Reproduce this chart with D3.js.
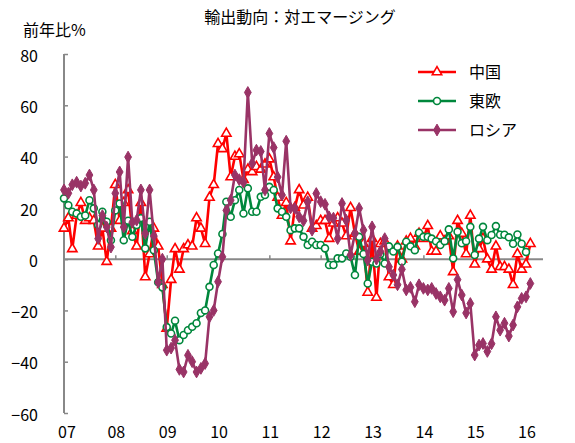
<!DOCTYPE html>
<html>
<head>
<meta charset="utf-8">
<script src="https://cdn.jsdelivr.net/npm/d3@7"></script>
<style>
  body { margin: 0; background: #fff; }
  svg text { font-family: "Noto Sans CJK JP", "Noto Sans", sans-serif; fill: #000; }
</style>
</head>
<body>
<div class="chart"></div>
<script>
// monthly data, Jan 2007 onward (前年比 %)
var startYear = 2007;
var yearLabels = ["07","08","09","10","11","12","13","14","15","16"];
var yTicks = [-60,-40,-20,0,20,40,60,80];
var seriesNames = ["中国","東欧","ロシア"];

var china = [12,16,4,17,22,15,16,15,5,12,-1,12,
  29,15,22,27,11,5,22,-7,2,12,5,-10,
  -27,-8,4,-4,4,5.5,5,16,12,6,24,29,
  45,43,49,32,40,41,31,35,34,36,35,37,
  39,32,24,17,22,7,20,27,21,24,12,13,
  15,15,8,14,16,14,9,20,10,3,6,-13,
  8,-15,6,7,-7,-10,5,0,7,8,5,10,
  8,13,3,3,9,7,9,-5,15,10,2,17,
  -2,4,8,0,-4,5,-3,-3,-4,-10,2,-4,
  -2,6];

var eastEurope = [23.7,21,18.5,17.8,16.5,17,23,19.8,13.3,18.5,14.6,7.4,
  19,21.7,7.4,15,8.7,13.3,16,4.2,14.6,3.5,-9,-11,
  -26.5,-29,-24,-31.6,-29.6,-27.7,-26.4,-25,-21,-20,-10.8,-2.3,
  2.2,9.8,22.4,16.5,23,27,17.8,27.6,18.5,18.5,24.3,25,
  28.2,27,19.8,18.5,16.5,11.3,12,12,8.7,5.5,6.8,5.5,
  5.5,4.2,-2.3,-2.3,0.3,0.3,2.2,0.9,-6.2,8.7,2,-9.5,
  -1,-1.7,2,-1.7,5,3,4.8,-1,6.8,5,3.5,10.3,
  8.7,8.7,8,7,5.5,7,11.6,0.3,10.7,6.2,7,12.6,
  1.6,8,12.6,7.4,9.4,12.9,9.5,9.5,8.5,6,9.6,6,
  2.8];

var russia = [27,25.7,29,30,28.5,29.6,32.8,27,8,17,12.5,4.7,
  25.7,34,12.5,39.8,14.4,15.2,27,10,27,9,-9,0,
  -35.5,-34.7,-31.6,-43,-44,-37.5,-40,-44,-42.6,-40.7,-22.5,-20,
  -8.8,0.9,19,23,32.8,31,30,65,37.4,42.5,42,27,
  49,43.5,32,25,46,20,19.8,16.5,15,22.4,11.3,25.6,
  22.4,21.4,16.5,16,8,21.7,15.2,1.6,10,19.8,11.3,-0.4,
  12.6,0,3,8,-3,-6.2,-10,-4,-12,-11,-16.6,-10,
  -11.4,-12,-11.4,-13.4,-14.7,-16,-11.4,-20.5,-8,-14,-21,-17.3,
  -37.4,-33.5,-32.9,-36,-33,-22.5,-27.7,-25,-30,-25.7,-18.6,-15.3,
  -14.7,-9.5];

var colors = ["#ff0000", "#00873c", "#993366"];

var width = 575, height = 443;
var svg = d3.select(".chart").append("svg")
  .attr("width", width)
  .attr("height", height);

// scales
var monthDate = function(i) { return new Date(startYear, i, 1); };
var xScale = d3.scaleTime()
  .domain([new Date(startYear, 0, 1), new Date(2016, 4, 1)])
  .range([64, 543]);
var yScale = d3.scaleLinear()
  .domain([-60, 80])
  .range([413, 54]);

// title
svg.append("text")
  .text("輸出動向：対エマージング")
  .attr("x", 300)
  .attr("y", 23)
  .attr("text-anchor", "middle")
  .attr("font-size", "16px");

svg.append("text")
  .text("前年比%")
  .attr("x", 23)
  .attr("y", 36)
  .attr("font-size", "16px");

// y axis
var yAxis = d3.axisLeft(yScale)
  .tickValues(yTicks)
  .tickSize(-4)
  .tickPadding(26)
  .tickFormat(d3.format("d"));
var yAxisG = svg.append("g")
  .attr("class", "y-axis")
  .attr("transform", "translate(64,0)")
  .call(yAxis);
yAxisG.select(".domain").remove();
yAxisG.append("line")
  .attr("x1", 0).attr("x2", 0)
  .attr("y1", yScale(80)).attr("y2", yScale(-60))
  .attr("stroke", "#888").attr("stroke-width", 2);
yAxisG.selectAll(".tick line").attr("stroke", "#888").attr("stroke-width", 1.5);
yAxisG.selectAll(".tick text")
  .attr("font-size", "16px")
  .attr("font-family", "'Noto Sans CJK JP', sans-serif")
  .attr("dy", "0.45em")
  .text(function(d) { return d < 0 ? "\u2212" + Math.abs(d) : d; });

// x axis on zero line
var yearTicks = yearLabels.map(function(d, i) { return new Date(startYear + i, 0, 1); });
var xAxis = d3.axisTop(xScale)
  .tickValues(yearTicks.slice(1))
  .tickSize(4)
  .tickFormat("");
var xAxisG = svg.append("g")
  .attr("class", "x-axis")
  .attr("transform", "translate(0," + yScale(0) + ")")
  .call(xAxis);
xAxisG.select(".domain").remove();
xAxisG.append("line")
  .attr("x1", xScale.range()[0]).attr("x2", xScale.range()[1])
  .attr("stroke", "#888").attr("stroke-width", 2);
xAxisG.selectAll(".tick line").attr("stroke", "#888").attr("stroke-width", 1.5);

// year labels at bottom
svg.append("g").selectAll("text")
  .data(yearLabels)
  .enter().append("text")
    .text(function(d) { return d; })
    .attr("x", function(d, i) { return xScale(yearTicks[i]) + (i === 0 ? 3 : 1); })
    .attr("y", 438)
    .attr("text-anchor", "middle")
    .attr("font-size", "16px");

// series
var series = [china, eastEurope, russia];
var symbols = [d3.symbolTriangle, d3.symbolCircle, d3.symbolDiamond];
var symSizes = [38, 38, 40];

var line = d3.line()
  .x(function(d, i) { return xScale(monthDate(i)); })
  .y(function(d) { return yScale(d); });

function drawMarker(g, k) {
  g.append("path")
    .attr("d", d3.symbol().type(symbols[k]).size(symSizes[k]))
    .attr("fill", k === 2 ? colors[k] : "#fff")
    .attr("stroke", colors[k])
    .attr("stroke-width", k === 2 ? 1 : 1.6);
}

series.forEach(function(vals, k) {
  var g = svg.append("g").attr("class", "series-" + k);
  g.append("path")
    .datum(vals)
    .attr("d", line)
    .attr("fill", "none")
    .attr("stroke", colors[k])
    .attr("stroke-width", 2.6)
    .attr("stroke-linejoin", "round");

  g.selectAll("g.marker")
    .data(vals)
    .enter().append("g")
      .attr("class", "marker")
      .attr("transform", function(d, i) {
        return "translate(" + xScale(monthDate(i)) + "," + yScale(d) + ")";
      })
      .each(function() { drawMarker(d3.select(this), k); });
});

// legend
var legend = svg.append("g").attr("class", "legend");
seriesNames.forEach(function(name, k) {
  var ly = 72 + k * 29;
  var lg = legend.append("g");
  lg.append("line")
    .attr("x1", 418).attr("x2", 456)
    .attr("y1", ly).attr("y2", ly)
    .attr("stroke", colors[k])
    .attr("stroke-width", 2.6);
  var mg = lg.append("g").attr("transform", "translate(437," + ly + ")");
  drawMarker(mg, k);
  lg.append("text")
    .text(name)
    .attr("x", 469)
    .attr("y", ly + 6)
    .attr("font-size", "16px");
});
</script>
</body>
</html>
